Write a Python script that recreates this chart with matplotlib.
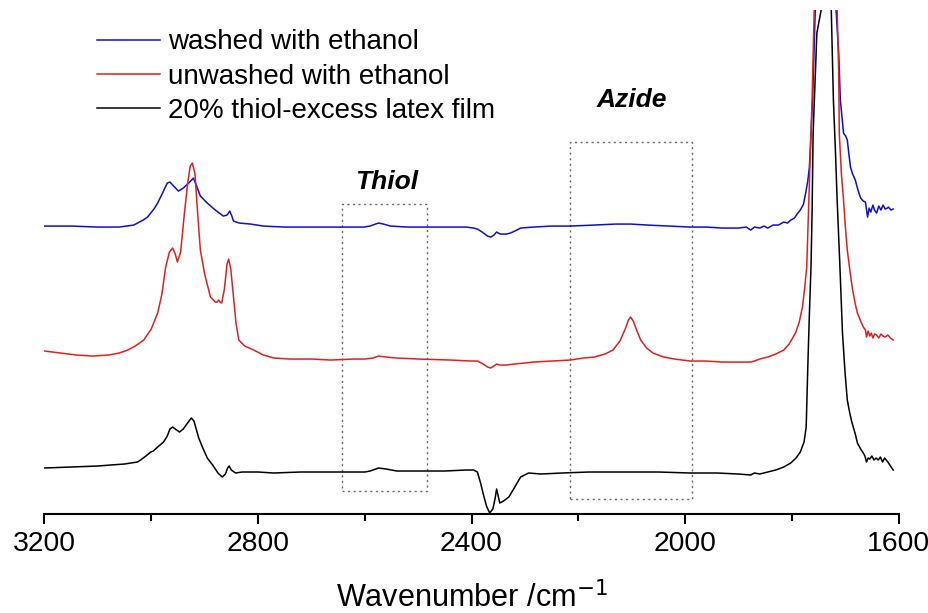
import matplotlib
matplotlib.use('Agg')
import numpy as np
from matplotlib import pyplot as plt
from matplotlib import font_manager
from matplotlib.patches import Rectangle
from matplotlib.ticker import MultipleLocator

# (wavenumber, offset intensity in a.u.)
washed_wn = [3200, 3150, 3100, 3060, 3033, 3015, 3007, 2995, 2988, 2978, 2970, 2965, 2958, 2949,
             2940, 2930, 2921, 2915, 2908, 2895, 2880, 2865, 2858, 2853, 2849, 2846, 2835, 2814,
             2790, 2750, 2700, 2650, 2602, 2590, 2580, 2574, 2565, 2552, 2520, 2480, 2440, 2410,
             2396, 2389, 2380, 2370, 2364, 2358, 2353, 2346, 2335, 2327, 2315, 2308, 2284, 2250,
             2215, 2170, 2130, 2102, 2070, 2030, 1990, 1960, 1930, 1900, 1885, 1877, 1870, 1860,
             1852, 1845, 1835, 1825, 1815, 1808, 1802, 1795, 1790, 1784, 1778, 1774, 1770, 1767,
             1764, 1761, 1756, 1745, 1736, 1725, 1717, 1712, 1709, 1703, 1699, 1696, 1693, 1690,
             1686, 1681, 1676, 1671, 1666, 1662, 1658, 1655, 1652, 1648, 1645, 1641, 1637, 1633,
             1629, 1625, 1621, 1619, 1614, 1610]
washed_ab = [288, 288, 287, 287, 289, 294, 297, 305, 311, 322, 331, 332, 328, 323,
             326, 331, 336, 328, 318, 311, 304, 298, 299, 303, 298, 293, 291, 290,
             288, 287, 287, 287, 287, 288, 290, 291, 290, 288, 287, 287, 287, 287,
             286, 285, 282, 278, 277, 279, 282, 280, 280, 281, 284, 286, 287, 288,
             288, 289, 290, 290, 289, 288, 287, 287, 286, 286, 287, 284, 287, 286,
             288, 286, 289, 289, 292, 291, 294, 296, 300, 304, 310, 321, 333, 347,
             380, 414, 504, 640, 700, 640, 504, 460, 414, 381, 378, 374, 360, 347,
             340, 334, 324, 316, 313, 312, 297, 306, 302, 309, 304, 301, 308, 304,
             309, 305, 306, 307, 304, 305]

unwashed_wn = [3200, 3170, 3140, 3110, 3080, 3060, 3044, 3030, 3014, 3000, 2988, 2980, 2973, 2966,
               2960, 2955, 2951, 2945, 2938, 2932, 2927, 2923, 2918, 2913, 2908, 2900, 2889, 2880,
               2876, 2874, 2871, 2868, 2863, 2858, 2855, 2851, 2846, 2841, 2836, 2825, 2808, 2790,
               2770, 2740, 2700, 2664, 2620, 2600, 2585, 2574, 2560, 2540, 2500, 2440, 2400, 2389,
               2378, 2370, 2364, 2358, 2353, 2347, 2335, 2320, 2300, 2284, 2250, 2215, 2190, 2170,
               2150, 2135, 2122, 2112, 2106, 2102, 2097, 2090, 2083, 2072, 2060, 2040, 2020, 1990,
               1960, 1930, 1900, 1877, 1870, 1860, 1845, 1830, 1815, 1805, 1793, 1786, 1780, 1776,
               1772, 1770, 1768, 1765, 1762, 1758, 1748, 1737, 1724, 1715, 1712, 1711, 1707, 1703,
               1700, 1696, 1691, 1686, 1681, 1677, 1671, 1666, 1662, 1660, 1657, 1654, 1651, 1648,
               1645, 1641, 1637, 1633, 1629, 1625, 1620, 1615, 1610]
unwashed_ab = [163, 161, 159, 158, 159, 161, 164, 168, 174, 185, 201, 220, 247, 262,
               266, 260, 252, 262, 300, 330, 348, 351, 340, 300, 264, 240, 217, 212,
               212, 214, 212, 211, 225, 250, 255, 245, 217, 190, 174, 168, 164, 159,
               156, 155, 155, 154, 155, 155, 156, 158, 157, 156, 155, 154, 153, 153,
               150, 147, 146, 148, 150, 149, 149, 150, 151, 152, 153, 154, 156, 157,
               160, 164, 173, 185, 194, 197, 193, 183, 174, 166, 161, 157, 155, 153,
               153, 152, 152, 152, 153, 155, 157, 160, 164, 170, 181, 192, 207, 225,
               247, 280, 314, 360, 414, 504, 640, 700, 640, 504, 440, 381, 340, 314,
               290, 264, 243, 224, 210, 201, 193, 187, 184, 177, 183, 178, 181, 176,
               180, 179, 176, 180, 178, 177, 179, 176, 174]

film_wn = [3200, 3150, 3100, 3076, 3050, 3026, 3020, 3010, 3001, 2996, 2988, 2977, 2970, 2965,
           2960, 2955, 2947, 2940, 2932, 2925, 2920, 2911, 2905, 2895, 2885, 2875, 2867, 2861,
           2857, 2854, 2850, 2842, 2830, 2800, 2771, 2720, 2664, 2620, 2600, 2590, 2574, 2560,
           2540, 2500, 2450, 2410, 2396, 2389, 2383, 2378, 2372, 2366, 2360, 2356, 2353, 2350,
           2347, 2340, 2330, 2320, 2308, 2293, 2270, 2230, 2180, 2130, 2100, 2050, 1990, 1940,
           1900, 1877, 1870, 1860, 1845, 1830, 1815, 1802, 1792, 1784, 1777, 1773, 1770, 1767,
           1764, 1762, 1760, 1753, 1745, 1736, 1726, 1722, 1718, 1715, 1710, 1705, 1700, 1696,
           1691, 1687, 1681, 1677, 1671, 1666, 1663, 1660, 1657, 1654, 1650, 1646, 1642, 1638,
           1634, 1630, 1626, 1620, 1615, 1610]
film_ab = [46, 47, 48, 49, 50, 52, 54, 58, 62, 63, 67, 72, 78, 85,
           87, 85, 82, 85, 91, 96, 93, 76, 68, 56, 49, 41, 37, 40,
           46, 48, 44, 41, 42, 42, 41, 42, 42, 42, 42, 43, 46, 45,
           43, 43, 43, 44, 44, 42, 31, 20, 8, 1, 5, 15, 25, 18,
           11, 13, 17, 26, 37, 41, 40, 41, 42, 42, 42, 42, 41, 41,
           40, 39, 41, 40, 42, 44, 47, 51, 56, 62, 72, 87, 147, 200,
           247, 300, 381, 481, 504, 650, 504, 414, 360, 314, 250, 181, 140, 114,
           100, 91, 80, 71, 65, 61, 58, 52, 56, 55, 58, 54, 56, 54,
           57, 52, 56, 52, 48, 44]

labels = ['washed with ethanol', 'unwashed with ethanol', '20% thiol-excess latex film']
colors = ['#1010c8', '#e02020', '#000000']

# marked regions: (high wn, low wn, bottom, top)
thiol_box = (2642, 2484, 23, 310)
azide_box = (2216, 1986, 15, 372)


def pick_font():
    names = {f.name for f in font_manager.fontManager.ttflist}
    if 'Liberation Sans Narrow' in names:
        return 'Liberation Sans Narrow', 1.0
    return 'Liberation Sans', 0.85


def main():
    narrow, k = pick_font()
    plt.rcParams['font.family'] = ['Liberation Sans', 'DejaVu Sans']

    fig = plt.figure(figsize=(9.29, 6.13), dpi=100)
    ax = fig.add_axes([0.0479, 0.1615, 0.9193, 0.822])

    series = [(washed_wn, washed_ab), (unwashed_wn, unwashed_ab), (film_wn, film_ab)]
    for (wn, ab), lab, c in zip(series, labels, colors):
        ax.plot(wn, ab, color=c, lw=1.1, label=lab)

    for (hi, lo, b, t) in (thiol_box, azide_box):
        ax.add_patch(Rectangle((hi, b), lo - hi, t - b, fill=False, edgecolor='#666666',
                               lw=1.0, linestyle=(0, (1.5, 2.5))))

    ax.text(2558, 332, 'Thiol', ha='center', va='center', fontsize=19,
            fontweight='bold', fontstyle='italic')
    ax.text(2099, 414, 'Azide', ha='center', va='center', fontsize=19,
            fontweight='bold', fontstyle='italic')

    ax.set_xlim(3200, 1600)
    ax.set_ylim(0, 504)
    for s in ('left', 'right', 'top'):
        ax.spines[s].set_visible(False)
    ax.spines['bottom'].set_linewidth(1.5)
    ax.set_yticks([])
    ax.xaxis.set_major_locator(MultipleLocator(400))
    ax.xaxis.set_minor_locator(MultipleLocator(200))
    ax.tick_params(axis='x', which='major', direction='out', length=7, width=1.5, pad=5)
    ax.tick_params(axis='x', which='minor', direction='out', length=5, width=1.5)
    for t in ax.get_xticklabels():
        t.set_family(narrow)
        t.set_fontsize(24 * k)

    ax.set_xlabel('Wavenumber /cm$^{-1}$', family=narrow, fontsize=26 * k, labelpad=18)

    ax.legend(loc='upper left', bbox_to_anchor=(0.1044, 0.952), bbox_transform=fig.transFigure,
              frameon=False, fontsize=20, handlelength=2.27, handletextpad=0.3,
              labelspacing=0.3, borderaxespad=0, borderpad=0)

    fig.savefig('out.png', dpi=100)


if __name__ == '__main__':
    main()
